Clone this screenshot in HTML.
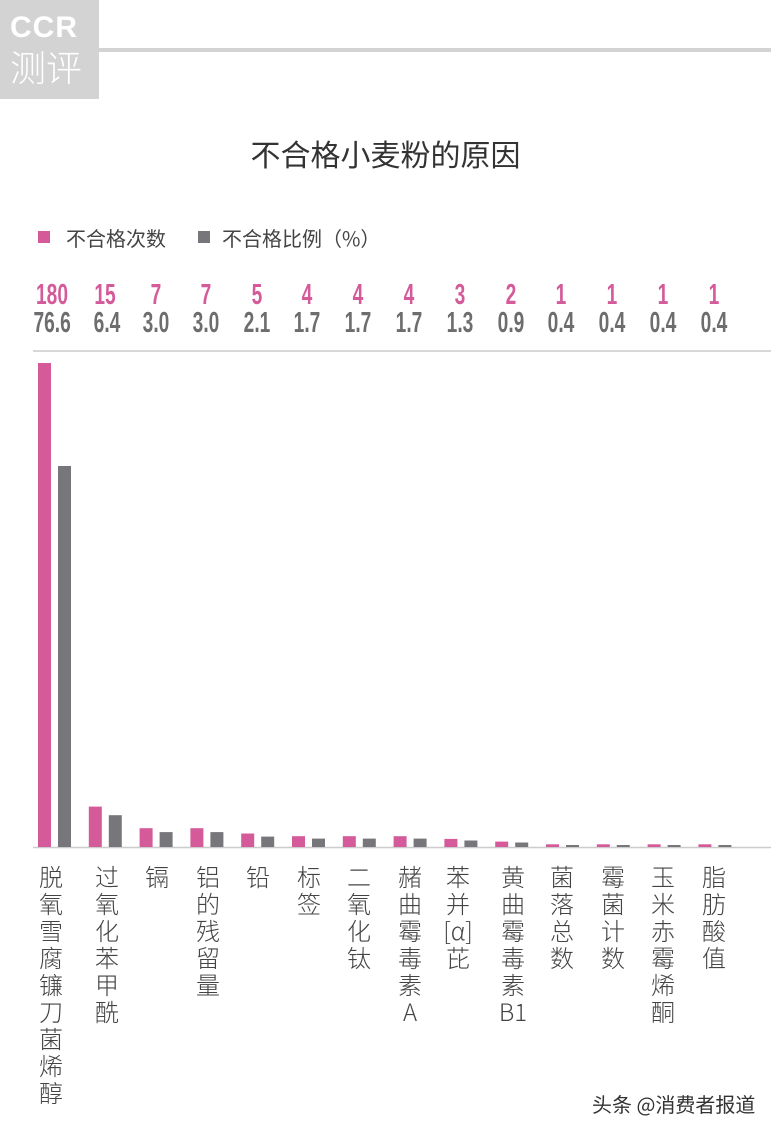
<!DOCTYPE html>
<html><head><meta charset="utf-8"><style>
body{margin:0;width:771px;height:1131px;background:#fff;position:relative;overflow:hidden;font-family:"Liberation Sans","Noto Sans CJK SC",sans-serif}
.a{position:absolute}
.n{position:absolute;width:50px;text-align:center;font-family:"Liberation Sans",sans-serif;font-weight:bold;font-size:29px;line-height:28px;transform:scaleX(0.66);transform-origin:center}
.l{position:absolute;width:30px;text-align:center;font-size:24px;line-height:27px;color:#444;font-family:"Noto Sans CJK SC",sans-serif;font-weight:300}
</style></head><body>
<div class="a" style="left:0;top:0;width:99px;height:99px;background:#d3d3d3"></div>
<div class="a" style="left:10px;top:12px;color:#fff;font-weight:bold;font-size:30px;line-height:32px;letter-spacing:1px">CCR</div>
<div class="a" style="left:10px;top:44px;color:#fff;font-size:36px;line-height:44px;font-family:'Noto Sans CJK SC',sans-serif;font-weight:300">测评</div>
<div class="a" style="left:99px;top:48px;width:672px;height:4px;background:#d3d3d3"></div>
<div class="a" style="left:0;width:771px;top:131px;text-align:center;font-size:30px;color:#333;font-family:'Noto Sans CJK SC',sans-serif">不合格小麦粉的原因</div>
<div class="a" style="left:38px;top:231px;width:12px;height:12px;background:#d45a9a"></div>
<div class="a" style="left:66px;top:224px;font-size:20px;line-height:28px;color:#444;font-family:'Noto Sans CJK SC',sans-serif">不合格次数</div>
<div class="a" style="left:198px;top:231px;width:12px;height:12px;background:#77777b"></div>
<div class="a" style="left:222px;top:224px;font-size:20px;line-height:28px;color:#444;font-family:'Noto Sans CJK SC',sans-serif">不合格比例（%）</div>
<svg class="a" style="left:0;top:0" width="771" height="1131">
<line x1="33" y1="351" x2="771" y2="351" stroke="#ccc" stroke-width="1.5"/>
<line x1="33" y1="847.5" x2="771" y2="847.5" stroke="#ccc" stroke-width="1.5"/>
<g fill="#d45a9a">
<rect x="38" y="363" width="13" height="484"/><rect x="88.8" y="806.6" width="13" height="40.4"/><rect x="139.6" y="828.2" width="13" height="18.8"/><rect x="190.4" y="828.2" width="13" height="18.8"/><rect x="241.2" y="833.5" width="13" height="13.5"/><rect x="292" y="836.2" width="13" height="10.8"/><rect x="342.8" y="836.2" width="13" height="10.8"/><rect x="393.6" y="836.2" width="13" height="10.8"/><rect x="444.4" y="838.9" width="13" height="8.1"/><rect x="495.2" y="841.6" width="13" height="5.4"/><rect x="546" y="844.3" width="13" height="2.7"/><rect x="596.8" y="844.3" width="13" height="2.7"/><rect x="647.6" y="844.3" width="13" height="2.7"/><rect x="698.4" y="844.3" width="13" height="2.7"/>
</g>
<g fill="#77777b">
<rect x="58" y="466" width="13" height="381"/><rect x="108.8" y="815.2" width="13" height="31.8"/><rect x="159.6" y="832.1" width="13" height="14.9"/><rect x="210.4" y="832.1" width="13" height="14.9"/><rect x="261.2" y="836.6" width="13" height="10.4"/><rect x="312" y="838.6" width="13" height="8.4"/><rect x="362.8" y="838.6" width="13" height="8.4"/><rect x="413.6" y="838.6" width="13" height="8.4"/><rect x="464.4" y="840.5" width="13" height="6.5"/><rect x="515.2" y="842.5" width="13" height="4.5"/><rect x="566" y="845" width="13" height="2"/><rect x="616.8" y="845" width="13" height="2"/><rect x="667.6" y="845" width="13" height="2"/><rect x="718.4" y="845" width="13" height="2"/>
</g>
</svg>
<div style="color:#d45a9a">
<div class="n" style="left:27px;top:281px">180</div><div class="n" style="left:80px;top:281px">15</div><div class="n" style="left:131px;top:281px">7</div><div class="n" style="left:181px;top:281px">7</div><div class="n" style="left:232px;top:281px">5</div><div class="n" style="left:282px;top:281px">4</div><div class="n" style="left:333px;top:281px">4</div><div class="n" style="left:384px;top:281px">4</div><div class="n" style="left:435px;top:281px">3</div><div class="n" style="left:486px;top:281px">2</div><div class="n" style="left:536px;top:281px">1</div><div class="n" style="left:587px;top:281px">1</div><div class="n" style="left:638px;top:281px">1</div><div class="n" style="left:689px;top:281px">1</div>
</div>
<div style="color:#6d6d70">
<div class="n" style="left:25px;top:309px">76.6</div><div class="n" style="left:82px;top:309px">6.4</div><div class="n" style="left:131px;top:309px">3.0</div><div class="n" style="left:181px;top:309px">3.0</div><div class="n" style="left:232px;top:309px">2.1</div><div class="n" style="left:282px;top:309px">1.7</div><div class="n" style="left:333px;top:309px">1.7</div><div class="n" style="left:384px;top:309px">1.7</div><div class="n" style="left:435px;top:309px">1.3</div><div class="n" style="left:486px;top:309px">0.9</div><div class="n" style="left:536px;top:309px">0.4</div><div class="n" style="left:587px;top:309px">0.4</div><div class="n" style="left:638px;top:309px">0.4</div><div class="n" style="left:689px;top:309px">0.4</div>
</div>
<div class="l" style="left:36px;top:862px">脱<br>氧<br>雪<br>腐<br>镰<br>刀<br>菌<br>烯<br>醇</div>
<div class="l" style="left:92px;top:862px">过<br>氧<br>化<br>苯<br>甲<br>酰</div>
<div class="l" style="left:142px;top:862px">镉</div>
<div class="l" style="left:193px;top:862px">铝<br>的<br>残<br>留<br>量</div>
<div class="l" style="left:243px;top:862px">铅</div>
<div class="l" style="left:294px;top:862px">标<br>签</div>
<div class="l" style="left:344px;top:862px">二<br>氧<br>化<br>钛</div>
<div class="l" style="left:395px;top:862px">赭<br>曲<br>霉<br>毒<br>素<br>A</div>
<div class="l" style="top:862px;width:32px;left:442px">苯<br>并<br>[α]<br>芘</div>
<div class="l" style="left:496px;top:862px;width:34px">黄<br>曲<br>霉<br>毒<br>素<br>B1</div>
<div class="l" style="left:547px;top:862px">菌<br>落<br>总<br>数</div>
<div class="l" style="left:598px;top:862px">霉<br>菌<br>计<br>数</div>
<div class="l" style="left:648px;top:862px">玉<br>米<br>赤<br>霉<br>烯<br>酮</div>
<div class="l" style="left:699px;top:862px">脂<br>肪<br>酸<br>值</div>
<div class="a" style="left:592px;top:1090px;font-size:20px;line-height:28px;color:#333;font-family:'Noto Sans CJK SC',sans-serif">头条 @消费者报道</div>
</body></html>
